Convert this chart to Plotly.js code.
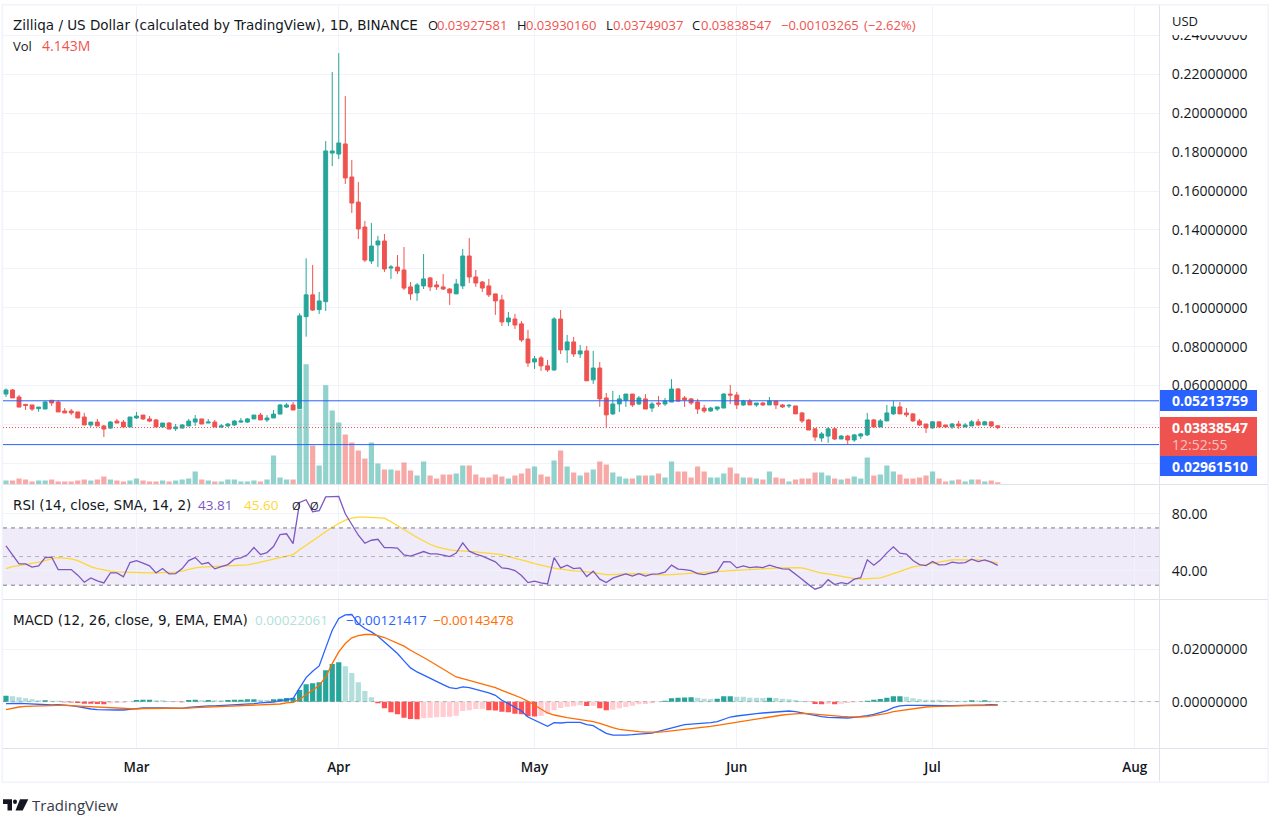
<!DOCTYPE html>
<html><head><meta charset="utf-8">
<script src="https://cdn.plot.ly/plotly-3.0.1.min.js"></script>
<style>html,body{margin:0;padding:0;background:#fff}#c{width:1282px;height:827px}</style>
</head><body><div id="c"></div>
<script>
const firstDay = "2021-02-09";
const open = [.0556,.0577,.0541,.0503,.0500,.0481,.0479,.0524,.0515,.0469,.0469,.0464,.0438,.0397,.0412,.0392,.0381,.0417,.0412,.0387,.0433,.0448,.0428,.0423,.0387,.0407,.0378,.0381,.0392,.0412,.0428,.0407,.0412,.0387,.0392,.0397,.0412,.0412,.0428,.0448,.0423,.0433,.0453,.0489,.0500,
.0481,.0954,.1066,.0990,.1031,.1795,.1790,.1842,.1672,.1543,.1415,.1240,.1323,.1343,.1204,.1209,.1194,.1107,.1076,.1112,.1153,.1117,.1107,.1096,.1071,.1112,.1266,.1158,.1132,.1112,.1071,.1040,.0927,.0942,.0917,.0839,.0721,.0742,.0701,.0680,.0942,.0783,.0824,.0762,.0778,.0629,.0690,.0536,.0454,
.0505,.0524,.0556,.0505,.0531,.0484,.0510,.0505,.0515,.0582,.0536,.0531,.0515,.0484,.0469,.0479,.0484,.0556,.0551,.0500,.0520,.0500,.0510,.0500,.0520,.0500,.0495,.0495,.0459,.0423,.0377,.0330,.0340,.0377,.0325,.0340,.0320,.0340,.0346,.0423,.0387,.0418,.0454,.0490,.0459,.0454,.0418,.0402,.0382,.0413,.0397,.0387,.0402,.0387,.0392,.0413,.0397,.0413,.03927581];
const high = [.0585,.0582,.0551,.0503,.0500,.0489,.0520,.0524,.0524,.0484,.0479,.0464,.0459,.0412,.0428,.0397,.0417,.0428,.0423,.0438,.0464,.0448,.0443,.0428,.0407,.0412,.0402,.0402,.0428,.0448,.0428,.0428,.0423,.0402,.0407,.0423,.0433,.0433,.0448,.0459,.0448,.0474,.0505,.0510,.0515,
.0971,.1254,.1220,.1081,.1857,.2212,.2309,.2088,.1759,.1646,.1446,.1436,.1369,.1379,.1220,.1271,.1312,.1132,.1127,.1276,.1158,.1137,.1173,.1101,.1148,.1302,.1358,.1194,.1137,.1148,.1071,.1066,.0978,.0968,.0932,.0886,.0752,.0752,.0732,.0952,.0988,.0860,.0850,.0809,.0803,.0778,.0721,.0562,.0572,
.0551,.0556,.0556,.0546,.0556,.0515,.0546,.0536,.0633,.0587,.0546,.0536,.0531,.0500,.0490,.0490,.0561,.0603,.0567,.0526,.0531,.0510,.0515,.0541,.0520,.0505,.0505,.0495,.0464,.0428,.0382,.0361,.0387,.0382,.0346,.0346,.0351,.0356,.0459,.0428,.0428,.0500,.0520,.0515,.0484,.0459,.0428,.0402,.0418,.0413,.0397,.0407,.0418,.0407,.0423,.0428,.0418,.0413,.03930160];
const low = [.0541,.0536,.0489,.0474,.0469,.0465,.0479,.0495,.0464,.0459,.0448,.0433,.0397,.0387,.0392,.0335,.0376,.0407,.0387,.0387,.0428,.0423,.0412,.0387,.0387,.0376,.0366,.0381,.0392,.0392,.0402,.0407,.0387,.0381,.0387,.0392,.0407,.0407,.0428,.0423,.0412,.0433,.0453,.0484,.0474,
.0481,.0851,.0983,.0968,.0983,.1728,.1764,.1636,.1487,.1353,.1235,.1225,.1209,.1184,.1148,.1173,.1091,.1040,.1035,.1096,.1086,.1091,.1091,.1014,.1071,.1096,.1127,.1107,.1081,.1055,.0963,.0906,.0906,.0891,.0824,.0696,.0685,.0675,.0670,.0675,.0762,.0716,.0747,.0742,.0624,.0608,.0490,.0382,.0449,
.0464,.0490,.0490,.0500,.0479,.0464,.0490,.0495,.0515,.0515,.0490,.0500,.0454,.0459,.0464,.0469,.0484,.0505,.0479,.0495,.0500,.0490,.0495,.0500,.0479,.0484,.0484,.0454,.0407,.0371,.0315,.0310,.0305,.0320,.0325,.0299,.0310,.0325,.0340,.0382,.0387,.0418,.0449,.0454,.0438,.0413,.0392,.0356,.0377,.0387,.0382,.0377,.0377,.0387,.0392,.0392,.0397,.0387,.03749037];
const close = [.0577,.0536,.0489,.0498,.0479,.0489,.0515,.0510,.0464,.0459,.0459,.0433,.0397,.0412,.0392,.0376,.0412,.0407,.0387,.0438,.0443,.0428,.0417,.0387,.0407,.0376,.0387,.0397,.0417,.0428,.0402,.0412,.0387,.0392,.0402,.0417,.0417,.0428,.0448,.0423,.0433,.0453,.0500,.0500,.0474,
.0958,.1066,.0988,.1035,.1806,.1806,.1847,.1667,.1538,.1405,.1245,.1317,.1343,.1199,.1209,.1189,.1101,.1071,.1117,.1148,.1107,.1107,.1096,.1076,.1122,.1266,.1158,.1127,.1101,.1066,.1035,.0927,.0947,.0911,.0834,.0716,.0737,.0701,.0680,.0942,.0783,.0824,.0762,.0778,.0624,.0690,.0531,.0449,.0505,
.0531,.0556,.0500,.0536,.0479,.0505,.0505,.0520,.0582,.0520,.0526,.0510,.0479,.0469,.0484,.0490,.0556,.0551,.0500,.0520,.0500,.0510,.0500,.0520,.0500,.0490,.0498,.0454,.0418,.0371,.0335,.0351,.0377,.0325,.0340,.0320,.0346,.0351,.0423,.0387,.0418,.0459,.0490,.0454,.0449,.0418,.0397,.0382,.0413,.0387,.0387,.0402,.0392,.0397,.0413,.0397,.0413,.0392,.03838547];
const volume = [7.2,7.2,10.8,9,5.4,7.2,7.2,9,5.4,5.4,5.4,7.2,9,7.2,9,14.4,9,7.2,5.4,7.2,10.8,7.2,5.4,5.4,7.2,5.4,7.2,9,10.8,23.4,9,7.2,5.4,5.4,9,9,5.4,5.4,7.2,5.4,9,52.2,12.6,9,9,
135,216,70.2,34.2,178.2,133.2,111.6,90,75.6,61.2,46.8,75.6,37.8,27,27,25.2,39.6,25.2,16.2,41.4,16.2,10.8,18,18,19.8,34.2,34.2,18,12.6,12.6,18,14.4,10.8,16.2,19.8,28.8,32.4,18,14.4,43.2,61.2,32.4,21.6,16.2,21.6,27,41.4,36,21.6,
14.4,10.8,10.8,16.2,16.2,16.2,19.8,12.6,41.4,23.4,23.4,12.6,32.4,23.4,12.6,12.6,19.8,30.6,19.8,12.6,12.6,10.8,9,23.4,12.6,10.8,5.4,9,10.8,10.8,21.6,21.6,16.2,10.8,9,10.8,14.4,10.8,48.6,16.2,18,34.2,23.4,18,10.8,10.8,12.6,16.2,23.4,10.8,5.4,7.2,9,5.4,9,9,5.4,7.2,4.143];
const rsi = [57.5,51.4,44.9,44.9,42.6,43.5,49.3,49.6,40.9,40.9,40.9,37.0,32.1,35.1,33.0,31.6,38.6,38.6,35.8,45.8,47.2,45.4,43.5,38.6,41.6,37.9,38.1,41.6,47.2,49.3,44.7,45.8,41.4,43.0,44.4,48.2,49.1,51.2,56.3,51.4,52.8,57.0,65.4,65.9,59.1,87.8,89.7,81.3,82.0,91.7,91.7,92.0,79.9,71.9,64.9,59.3,61.4,62.1,56.3,56.3,55.9,51.2,50.3,51.9,53.5,51.9,51.9,51.0,50.0,52.4,59.6,53.8,51.7,50.3,48.2,46.3,42.1,
41.6,40.2,36.7,31.8,32.8,31.6,30.9,49.3,42.1,44.0,41.6,42.1,36.0,39.8,34.2,31.8,34.9,36.5,37.9,36.3,38.1,36.3,37.7,37.9,39.1,44.0,41.2,40.9,40.2,38.1,37.4,38.4,39.5,46.5,46.3,42.1,43.5,42.3,42.8,42.3,44.0,42.6,41.4,41.2,37.9,34.2,30.4,27.2,28.8,33.9,30.4,31.8,30.9,34.2,35.3,47.7,44.0,47.5,52.6,56.8,52.4,51.7,47.2,44.4,43.7,46.5,44.2,44.4,46.1,45.4,45.8,48.2,46.5,47.7,46.1,43.81];
const rsiMa = [41.6,43.0,43.7,44.4,45.4,46.1,47.2,48.6,49.3,49.1,48.4,47.2,45.1,43.0,41.6,40.5,39.8,39.3,39.1,38.8,38.8,38.6,38.6,38.6,38.8,38.8,39.1,39.8,40.9,42.1,42.6,42.8,43.3,43.3,43.5,43.7,43.7,44.2,45.1,46.1,47.0,48.2,49.1,50.0,51.4,54.7,57.9,60.7,63.8,67.0,70.5,73.1,75.4,76.8,77.5,77.5,77.3,77.1,76.8,74.3,71.7,69.1,66.1,63.3,60.7,58.6,56.8,55.6,54.7,54.2,54.0,53.8,53.3,52.8,52.4,51.9,51.4,
50.0,48.9,47.9,46.5,45.1,44.0,42.8,41.9,41.2,40.5,40.0,39.8,39.5,38.8,38.1,37.4,37.4,37.4,37.9,38.1,38.1,37.9,37.4,37.2,37.2,37.4,37.7,37.9,38.1,38.1,38.4,38.8,39.3,39.8,40.2,40.5,40.9,41.2,41.4,41.6,41.6,41.9,42.1,42.3,42.3,42.1,40.9,39.3,38.4,37.9,37.0,36.0,35.3,34.6,34.2,34.6,34.9,35.1,36.5,38.1,39.8,41.4,42.8,43.5,44.4,45.6,46.5,47.0,47.7,47.7,47.7,48.2,47.7,47.2,46.5,45.60];
const macd = [-.00077,-.00064,-.00064,-.00077,-.00090,-.00115,-.00128,-.00128,-.00115,-.00128,-.00154,-.00192,-.00243,-.00282,-.00307,-.00320,-.00320,-.00320,-.00320,-.00282,-.00269,-.00243,-.00230,-.00243,-.00243,-.00243,-.00256,-.00256,-.00218,-.00192,-.00166,-.00166,-.00166,-.00154,-.00141,-.00128,-.00102,-.00090,-.00077,-.00051,-.00038,-.00013,.00038,.00090,.00115,.00525,.00922,.01165,.01370,.02061,.02739,.03187,.03328,.03341,.02995,.02803,.02675,.02509,.02291,.02061,.01843,.01562,.01293,.01139,.01011,.00883,.00768,.00653,.00538,.00499,.00563,.00538,.00474,.00410,.00333,.00243,.00051,
-.00077,-.00205,-.00358,-.00589,-.00717,-.00845,-.00947,-.00806,-.00819,-.00794,-.00794,-.00794,-.00883,-.00922,-.01075,-.01216,-.01280,-.01293,-.01280,-.01267,-.01254,-.01229,-.01203,-.01139,-.01075,-.00986,-.00934,-.00883,-.00858,-.00845,-.00832,-.00806,-.00768,-.00666,-.00589,-.00550,-.00512,-.00486,-.00461,-.00435,-.00410,-.00384,-.00371,-.00358,-.00384,-.00435,-.00499,-.00550,-.00576,-.00602,-.00614,-.00627,-.00627,-.00602,-.00576,-.00538,-.00486,-.00422,-.00346,-.00230,-.00166,-.00141,-.00128,-.00141,-.00141,-.00154,-.00154,-.00154,-.00154,-.00154,-.00141,-.00141,-.00128,-.00128,-.00115,-.00121417];
const signal = [-.00307,-.00243,-.00205,-.00179,-.00166,-.00154,-.00141,-.00141,-.00141,-.00141,-.00154,-.00166,-.00179,-.00205,-.00230,-.00243,-.00256,-.00269,-.00282,-.00282,-.00282,-.00269,-.00269,-.00269,-.00256,-.00256,-.00256,-.00256,-.00243,-.00230,-.00218,-.00218,-.00205,-.00192,-.00192,-.00179,-.00166,-.00154,-.00141,-.00128,-.00115,-.00102,-.00090,-.00051,-.00026,.00090,.00256,.00435,.00627,.00947,.01459,.01907,.02227,.02445,.02534,.02573,.02573,.02534,.02458,.02355,.02253,.02125,.01971,.01818,.01690,.01549,.01395,.01242,.01075,.00947,.00883,.00819,.00755,.00691,.00614,.00538,.00435,
.00346,.00243,.00141,.00013,-.00141,-.00307,-.00435,-.00512,-.00576,-.00614,-.00653,-.00691,-.00717,-.00768,-.00832,-.00922,-.00998,-.01062,-.01101,-.01139,-.01152,-.01165,-.01178,-.01165,-.01152,-.01126,-.01088,-.01050,-.01024,-.00998,-.00973,-.00947,-.00909,-.00870,-.00819,-.00768,-.00730,-.00691,-.00653,-.00614,-.00576,-.00538,-.00512,-.00486,-.00461,-.00448,-.00461,-.00486,-.00512,-.00525,-.00538,-.00563,-.00576,-.00589,-.00589,-.00576,-.00538,-.00499,-.00448,-.00384,-.00346,-.00294,-.00256,-.00230,-.00205,-.00192,-.00179,-.00166,-.00166,-.00154,-.00154,-.00154,-.00154,-.00141,-.00141,-.00143478];
const hist = [.00230,.00205,.00166,.00128,.00090,.00051,.00058,.00038,.00032,-.00026,-.00032,-.00051,-.00077,-.00083,-.00090,-.00096,-.00064,-.00051,-.00038,-.00013,.00064,.00070,.00077,.00058,.00051,.00026,-.00013,-.00026,.00064,.00070,.00058,.00064,.00058,.00051,.00064,.00070,.00077,.00090,.00096,.00070,.00067,.00090,.00115,.00141,.00154,.00448,.00666,.00704,.00742,.01203,.01446,.01510,.01357,.01101,.00742,.00410,.00166,-.00064,-.00256,-.00410,-.00486,-.00614,-.00666,-.00678,-.00640,-.00614,-.00602,-.00589,-.00576,-.00538,-.00358,-.00333,-.00282,-.00269,-.00333,-.00339,-.00384,
-.00410,-.00461,-.00486,-.00563,-.00570,-.00550,-.00461,-.00333,-.00243,-.00192,-.00179,-.00141,-.00166,-.00154,-.00256,-.00333,-.00307,-.00256,-.00205,-.00154,-.00102,-.00090,-.00064,-.00013,.00038,.00128,.00154,.00160,.00166,.00154,.00115,.00102,.00115,.00205,.00211,.00192,.00192,.00154,.00154,.00141,.00154,.00141,.00115,.00090,.00064,.00026,-.00013,-.00090,-.00096,-.00077,-.00096,-.00077,-.00051,-.00026,-.00013,.00038,.00077,.00102,.00154,.00205,.00211,.00192,.00128,.00090,.00077,.00076,.00070,.00051,.00045,.00038,.00038,.00051,.00045,.00051,.00038,.00022061];
const monthTicks = ["2021-03-01","2021-04-01","2021-05-01","2021-06-01","2021-07-01","2021-08-01"];
const monthLabels = ["Mar","Apr","May","Jun","Jul","Aug"];
const priceTicks = [.02,.04,.06,.08,.10,.12,.14,.16,.18,.20,.22,.24];
const priceLabels = ["","","0.06000000","0.08000000","0.10000000","0.12000000","0.14000000","0.16000000","0.18000000","0.20000000","0.22000000","0.24000000"];
const rsiTicks = [40,80];
const macdTicks = [0,.02];
const supportLevels = [.05213759,.02961510];
const lastPrice = .03838547;

const W=1282,H=827, FF='"Open Sans", sans-serif', LF='"DejaVu Sans", sans-serif', DARK='#131722', GRID='#f0f3fa', BORDER='#e0e3eb';
const UP='#26a69a', DOWN='#ef5350';
const px=v=>v/W, py=v=>1-v/H;
const dom=(a,b)=>[1-b/H,1-a/H];
const dates=open.map((_,i)=>new Date(Date.parse(firstDay)+i*864e5).toISOString().slice(0,10));
const volColors=open.map((o,i)=>close[i]>=o?'rgba(38,166,154,0.5)':'rgba(239,83,80,0.5)');
const histColors=hist.map((h,i)=>{const p=i?hist[i-1]:-1;return h>=0?(h>p?UP:'#b2dfdb'):(h<p?'#ff5252':'#ffcdd2');});
const barW=0.8*864e5;
const xRange=["2021-02-08 13:00","2021-08-04 17:00"];

const traces=[
 {type:'bar',x:dates,y:volume,marker:{color:volColors,line:{width:0}},width:barW,xaxis:'x',yaxis:'y',hoverinfo:'skip'},
 {type:'candlestick',x:dates,open,high,low,close,xaxis:'x',yaxis:'y2',whiskerwidth:0,
  increasing:{line:{color:UP,width:1},fillcolor:UP},decreasing:{line:{color:DOWN,width:1},fillcolor:DOWN}},
 {type:'scatter',mode:'lines',x:dates,y:rsiMa,line:{color:'#fdd835',width:1.3},xaxis:'x2',yaxis:'y3'},
 {type:'scatter',mode:'lines',x:dates,y:rsi,line:{color:'#7e57c2',width:1.3},xaxis:'x2',yaxis:'y3'},
 {type:'bar',x:dates,y:hist,marker:{color:histColors,line:{width:0}},width:barW,xaxis:'x3',yaxis:'y4'},
 {type:'scatter',mode:'lines',x:dates,y:macd,line:{color:'#2962ff',width:1.3},xaxis:'x3',yaxis:'y4'},
 {type:'scatter',mode:'lines',x:dates,y:signal,line:{color:'#ff6d00',width:1.3},xaxis:'x3',yaxis:'y4'}
];
const xBase={range:xRange,type:'date',domain:[3/W,1159/W],tickmode:'array',tickvals:monthTicks,ticktext:monthLabels,
 showgrid:true,gridcolor:GRID,gridwidth:1,zeroline:false,showline:false,rangeslider:{visible:false},fixedrange:true};
const yRight={side:'right',tickcolor:'rgba(0,0,0,0)',ticks:'outside',ticklen:9,tickfont:{family:FF,size:14,color:DARK},
 showgrid:true,gridcolor:GRID,zeroline:false,showline:false,tickmode:'array',fixedrange:true};
const hline=(y,yref,color,dash,w)=>({type:'line',xref:'paper',yref,x0:3/W,x1:1159/W,y0:y,y1:y,line:{color,dash,width:w||1},layer:'above'});
const rect=(x0,y0,x1,y1,fill)=>({type:'rect',xref:'paper',yref:'paper',x0:px(x0),x1:px(x1),y0:py(y1),y1:py(y0),fillcolor:fill,line:{width:0},layer:'above'});
const poly=(pts,fill)=>({type:'path',xref:'paper',yref:'paper',path:'M'+pts.map(p=>px(p[0])+','+py(p[1])).join('L')+'Z',fillcolor:fill,line:{width:0},layer:'above'});
const pline=(x0,y0,x1,y1)=>({type:'line',xref:'paper',yref:'paper',x0:px(x0),x1:px(x1),y0:py(y0),y1:py(y1),line:{color:BORDER,width:1},layer:'above'});
const shapes=[
 {type:'rect',xref:'paper',yref:'y3',x0:3/W,x1:1159/W,y0:30,y1:70,fillcolor:'rgba(126,87,194,0.12)',line:{width:0},layer:'below'},
 hline(70,'y3','#787b86','4px,4px'),hline(50,'y3','rgba(120,123,134,0.5)','4px,4px'),hline(30,'y3','#787b86','4px,4px'),
 hline(0,'y4','rgba(120,123,134,0.5)','4px,4px'),
 hline(supportLevels[0],'y2','#2962ff','solid'),hline(supportLevels[1],'y2','#2962ff','solid'),
 hline(lastPrice,'y2',DOWN,'1px,2px'),
 rect(1160,5,1267,35,'#fff'),
 rect(1159,390,1257,411,'#2962ff'),rect(1159,417,1257,456,DOWN),rect(1159,456,1257,476,'#2962ff'),
 pline(3,484.5,1268,484.5),pline(3,599.5,1268,599.5),pline(3,748.5,1268,748.5),pline(1159.5,5,1159.5,782),
 rect(2,4,1269,5.5,GRID),rect(2,781.5,1269,783,GRID),rect(1.5,4,3,783,GRID),rect(1267.5,4,1269,783,GRID),
 poly([[3,799.3],[12,799.3],[12,810.6],[7.5,810.6],[7.5,804],[3,804]],DARK),
 poly([[20,799.3],[28.3,799.3],[22.7,810.6],[15.5,810.6]],DARK),
 {type:'circle',xref:'paper',yref:'paper',x0:px(13),x1:px(17),y0:py(804),y1:py(799.5),fillcolor:DARK,line:{width:0},layer:'above'}
];
const T=(x,y,text,color,size,bold,fam)=>({xref:'paper',yref:'paper',x:px(x),y:py(y),text:bold?'<b>'+text+'</b>':text,showarrow:false,xanchor:'left',yanchor:'middle',
 font:{family:fam||FF,size:size||13,color:color||DARK},align:'left',borderpad:0,borderwidth:0});
const annotations=[
 T(13,25,'Zilliqa / US Dollar (calculated by TradingView), 1D, BINANCE',DARK,13.5,false,LF),
 T(428,25,'O',DARK),T(437,25,'0.03927581',DOWN),
 T(517,25,'H',DARK),T(526,25,'0.03930160',DOWN),
 T(606,25,'L',DARK),T(613,25,'0.03749037',DOWN),
 T(692,25,'C',DARK),T(701,25,'0.03838547',DOWN),
 T(781,25,'−0.00103265',DOWN),T(864,25,'(−2.62%)',DOWN),
 T(13,46,'Vol',DARK),T(42,46,'4.143M',DOWN,14),
 T(1172,21,'USD',DARK),
 T(13,505,'RSI (14, close, SMA, 14, 2)',DARK,13.5,false,LF),T(198,505,'43.81','#7e57c2',13.5),T(244,505,'45.60','#fdd835',13.5),T(292,505,'Ø',DARK,11),T(310,505,'Ø',DARK,11),
 T(13,620,'MACD (12, 26, close, 9, EMA, EMA)',DARK,13.5,false,LF),T(255,620,'0.00022061','#b2dfdb',13.5),T(346,620,'−0.00121417','#2962ff',13.5),T(433,620,'−0.00143478','#ff6d00',13.5),
 T(1172,400.5,'0.05213759','#fff',14,true),T(1172,427,'0.03838547','#fff',14,true),T(1172,445,'12:52:55','#f9c0bf',14),T(1172,466,'0.02961510','#fff',14,true),
 T(32,805,'TradingView','#363a45',15)
];
const layout={width:W,height:H,margin:{l:0,r:0,t:0,b:0,pad:0},paper_bgcolor:'#fff',plot_bgcolor:'#fff',showlegend:false,hovermode:false,dragmode:false,
 barmode:'overlay',boxgap:0.15,font:{family:FF,color:DARK},
 xaxis:Object.assign({},xBase,{anchor:'y',showticklabels:false,ticks:''}),
 xaxis2:Object.assign({},xBase,{anchor:'y3',showticklabels:false,ticks:''}),
 xaxis3:Object.assign({},xBase,{anchor:'y4',ticks:'outside',ticklen:6,tickcolor:'rgba(0,0,0,0)',tickfont:{family:FF,size:13.5,color:DARK,weight:600}}),
 yaxis:{domain:dom(6,484.5),range:[0,860],showticklabels:false,showgrid:false,zeroline:false,ticks:'',fixedrange:true},
 yaxis2:Object.assign({},yRight,{overlaying:'y',anchor:'x',range:[.00910,.25512],tickvals:priceTicks,ticktext:priceLabels}),
 yaxis3:Object.assign({},yRight,{domain:dom(485,599.5),anchor:'x2',range:[20,100],tickvals:rsiTicks,tickformat:'.2f'}),
 yaxis4:Object.assign({},yRight,{domain:dom(600,748.5),anchor:'x3',range:[-.01796,.03896],tickvals:macdTicks,tickformat:'.8f'}),
 shapes,annotations};
Plotly.newPlot('c',traces,layout,{staticPlot:true,displayModeBar:false});
</script></body></html>
